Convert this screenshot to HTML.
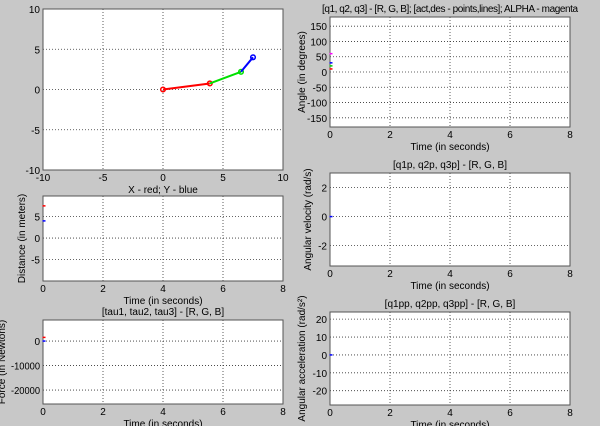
<!DOCTYPE html>
<html><head><meta charset="utf-8"><style>
body{margin:0;background:#c8c8c8;}
svg{display:block;font-family:"Liberation Sans",sans-serif;}
</style></head><body>
<svg id="fig" width="600" height="426"></svg>
<script>
// arm link data (x,y)
const armX=[0,3.9,6.5,7.5];
const armY=[0,0.75,2.2,4];
const armColors=["#ff0000","#00e000","#0000ff"];
// initial markers at t=0
const angleVals=[10,20,30,60];
const angleCols=["#ff0000","#00cc00","#0000ff","#ff00ff"];
const distVals=[7.5,4];
const distCols=["#ff0000","#0000ff"];
const forceVals=[1500,0];
const forceCols=["#ff0000","#0000ff"];
const velVals=[0];
const accVals=[0];
const timeTicks=[0,2,4,6,8];

const NS="http://www.w3.org/2000/svg";
const svg=document.getElementById('fig');
const FS=10;
function el(t,a,p){const e=document.createElementNS(NS,t);for(const k in a)e.setAttribute(k,a[k]);(p||svg).appendChild(e);return e;}
function txt(s,x,y,anchor,p,rot){const e=el('text',{x:x,y:y,'text-anchor':anchor||'middle','font-size':FS,fill:'#000'},p);if(rot)e.setAttribute('transform',`rotate(-90 ${x} ${y})`);e.textContent=s;return e;}

function axes(name,L,T,R,B,xmin,xmax,ymin,ymax,xt,yt,title,xl,yl,ylx){
  const g=el('g',{});
  
  
  el('rect',{x:L,y:T,width:R-L,height:B-T,fill:'#fff'},g);
  const sx=v=>L+(v-xmin)/(xmax-xmin)*(R-L);
  const sy=v=>B-(v-ymin)/(ymax-ymin)*(B-T);
  xt.forEach(v=>{const x=sx(v);
    if(v!==xmin&&v!==xmax)el('line',{x1:x,y1:T,x2:x,y2:B,stroke:'#333','stroke-dasharray':'1,2','stroke-width':0.8},g);
    const t=txt(String(v),x,B+11,'middle',g);});
  yt.forEach(v=>{const y=sy(v);
    if(v!==ymin&&v!==ymax)el('line',{x1:L,y1:y,x2:R,y2:y,stroke:'#333','stroke-dasharray':'1,2','stroke-width':0.8},g);
    const t=txt(String(v),L-3,y+4,'end',g);
    if(String(v).length>5){t.setAttribute('textLength',L-14);t.setAttribute('lengthAdjust','spacingAndGlyphs');}});
  el('rect',{x:L,y:T,width:R-L,height:B-T,fill:'none',stroke:'#555','stroke-width':1},g);
  if(title){const t=txt(title,(L+R)/2,T-5,'middle',g);
    if(title.length>40)t.setAttribute('textLength',256);}
  if(xl){const t=txt(xl,(L+R)/2,B+23,'middle',g);}
  if(yl){const t=txt(yl,ylx,(T+B)/2,'middle',g,true);}
  return {g,sx,sy};
}

// arm plot
const a1=axes('arm-plot',43,9,283,170,-10,10,-10,10,[-10,-5,0,5,10],[-10,-5,0,5,10],null,'X - red; Y - blue',null,0);
for(let i=0;i<3;i++){
  const l=el('line',{x1:a1.sx(armX[i]),y1:a1.sy(armY[i]),x2:a1.sx(armX[i+1]),y2:a1.sy(armY[i+1]),stroke:armColors[i],'stroke-width':2},a1.g);
  
  
  const c=el('circle',{cx:a1.sx(armX[i+1]),cy:a1.sy(armY[i+1]),r:2.3,fill:'none',stroke:armColors[i],'stroke-width':1.5},a1.g);
  
  
}
const c0=el('circle',{cx:a1.sx(armX[0]),cy:a1.sy(armY[0]),r:2.3,fill:'none',stroke:'#ff0000','stroke-width':1.5},a1.g);



function marks(ax,vals,cols){vals.forEach((v,i)=>{
  const m=el('line',{x1:ax.sx(0)-0.5,y1:ax.sy(v),x2:ax.sx(0)+2.5,y2:ax.sy(v),stroke:cols[i],'stroke-width':1.5},ax.g);
  
  });}

const a2=axes('angle-plot',330,17,570,127,0,8,-180,180,timeTicks,[-150,-100,-50,0,50,100,150],'[q1, q2, q3] - [R, G, B]; [act,des - points,lines]; ALPHA - magenta','Time (in seconds)','Angle (in degrees)',305);
marks(a2,angleVals,angleCols);
const a3=axes('distance-plot',43,196,283,281,0,8,-10,9.8,timeTicks,[-5,0,5],null,'Time (in seconds)','Distance (in meters)',25);
marks(a3,distVals,distCols);
const a4=axes('force-plot',43,320,283,404,0,8,-25700,8600,timeTicks,[-20000,-10000,0],'[tau1, tau2, tau3] - [R, G, B]','Time (in seconds)','Force (in Newtons)',5);
marks(a4,forceVals,forceCols);
const a5=axes('velocity-plot',330,173,570,266,0,8,-3.4,3,timeTicks,[-2,0,2],'[q1p, q2p, q3p] - [R, G, B]','Time (in seconds)','Angular velocity (rad/s)',311);
marks(a5,velVals,["#0000ff"]);
const a6=axes('acceleration-plot',330,312,570,405,0,8,-28,24,timeTicks,[-20,-10,0,10,20],'[q1pp, q2pp, q3pp] - [R, G, B]','Time (in seconds)','Angular acceleration (rad/s²)',305);
marks(a6,accVals,["#0000ff"]);
</script>
</body></html>
